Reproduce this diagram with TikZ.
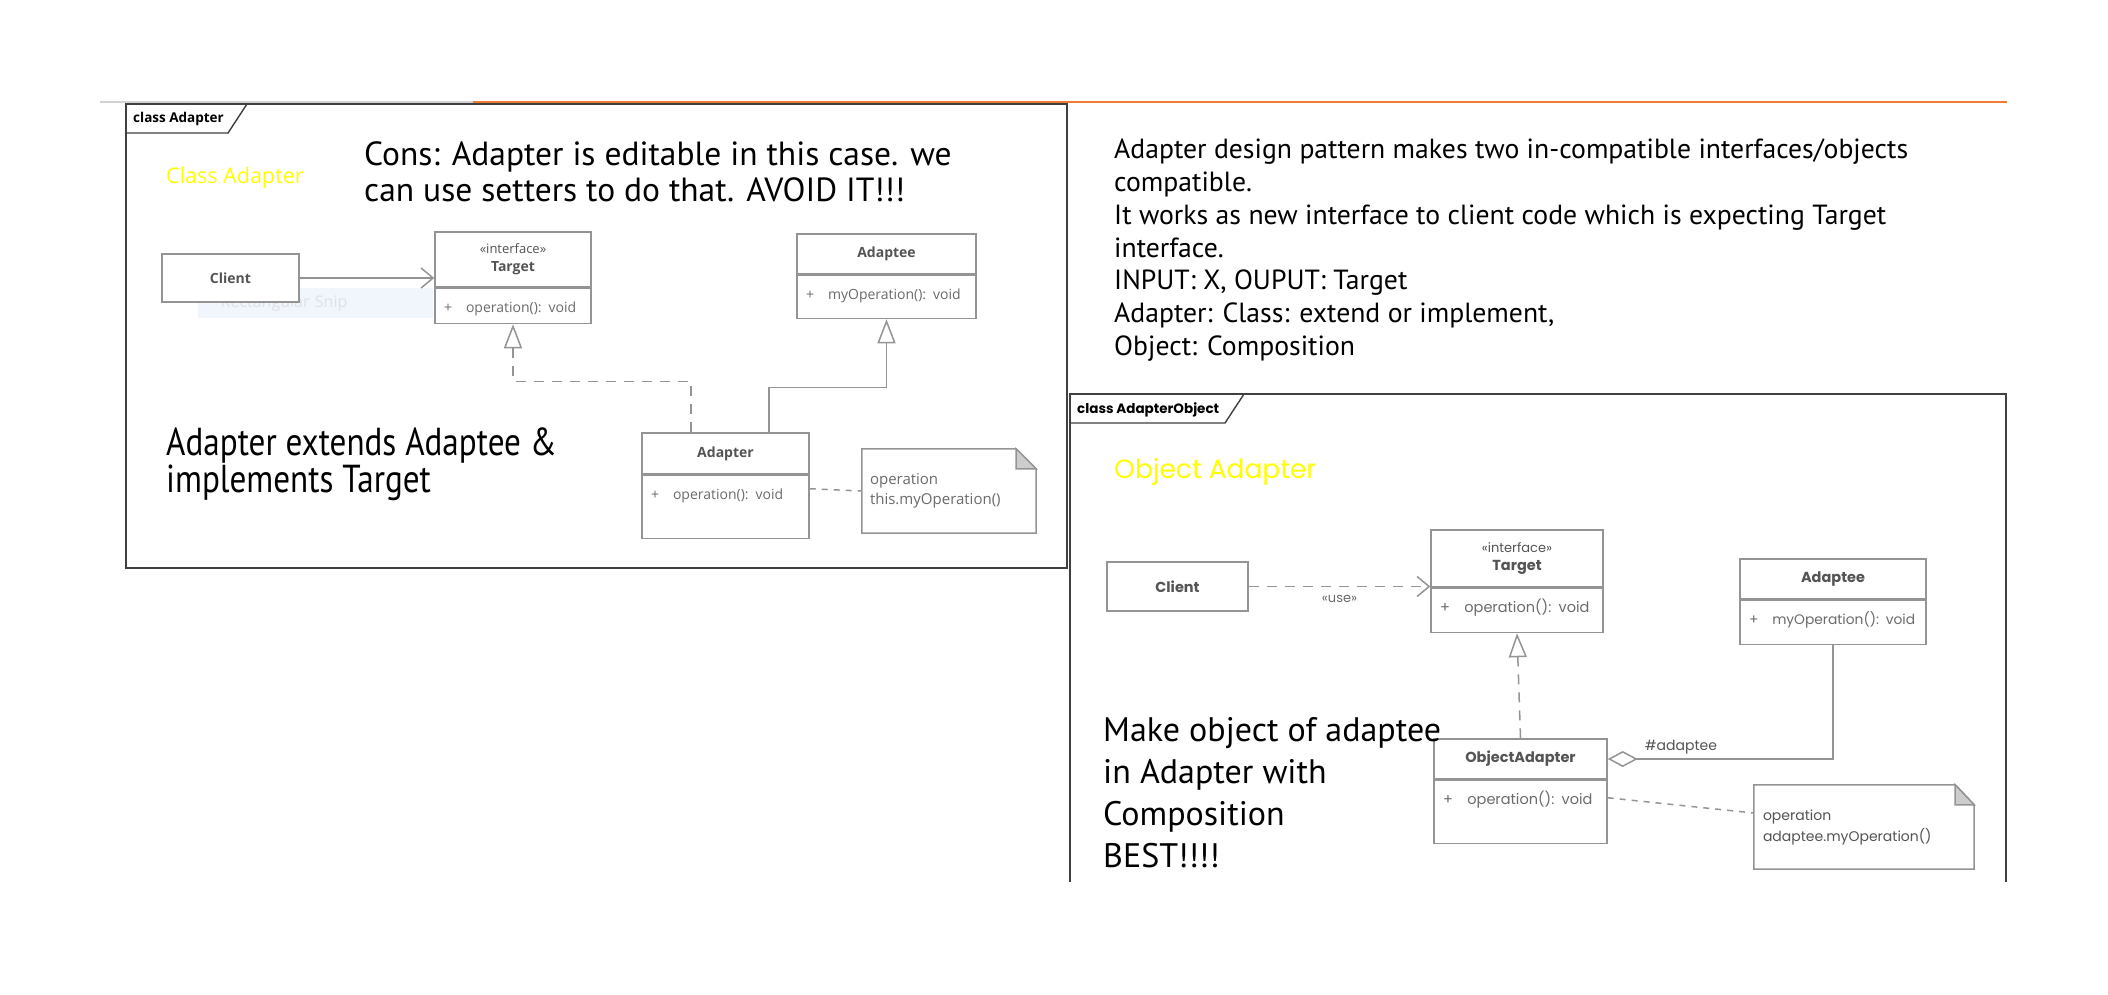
\documentclass[tikz,border=0pt]{standalone}
\usepackage{fontspec}
\setmainfont{Open Sans}
\newfontfamily\comicfont{Poppins}
\newfontfamily\handfont{PT Sans}
\newfontfamily\handnarrow{PT Sans}[FakeStretch=0.85]
\usetikzlibrary{arrows.meta, positioning, calc}
\definecolor{umlline}{gray}{0.58}
\definecolor{umltext}{gray}{0.42}
\definecolor{umlname}{gray}{0.33}
\definecolor{frameline}{gray}{0.25}
\definecolor{orangeline}{RGB}{237,125,49}
\definecolor{snipblue}{RGB}{240,246,252}
\definecolor{notefold}{gray}{0.80}
\definecolor{titleyellow}{RGB}{255,255,0}
\newcommand{\fsz}[2]{\fontsize{#1}{#2}\selectfont}

\begin{document}
\begin{tikzpicture}[x=1pt, y=-1pt,
    every node/.style={inner sep=0pt},
    umlhead/.style={draw=umlline, line width=1.5pt, fill=white, align=center, text=umlname, font=\fsz{14}{18}\bfseries},
    umlops/.style 2 args={draw=umlline, line width=1.5pt, fill=white, anchor=north, align=left, text=umltext,
        font=\fsz{14}{17}, inner xsep=9pt, inner ysep=6pt, text width=#1, text height=18pt, text depth=#2},
    rhead/.style={umlhead, font=\comicfont\fsz{14.5}{18}\bfseries},
    rops/.style 2 args={umlops={#1}{#2}, font=\comicfont\fsz{14.5}{17}},
    umlnote/.style={align=left, text=umltext, font=\fsz{15}{20}, inner xsep=8pt},
    rnote/.style={umlnote, text=umlname, font=\comicfont\fsz{14}{21}, inner xsep=9pt},
    notebox/.style={draw=umlline, line width=1.5pt},
    assoc/.style={draw=umlline, line width=1.5pt, arrows={-Straight Barb[length=12pt, width=20pt]}},
    usedep/.style={assoc, dash pattern=on 10pt off 8pt},
    gener/.style={draw=umlline, line width=1.5pt, arrows={-Triangle[open, fill=white, length=24pt, width=18pt]}},
    realize/.style={gener, dash pattern=on 10pt off 8pt},
    aggr/.style={draw=umlline, line width=1.5pt, arrows={Diamond[open, fill=white, length=30pt, width=16pt]-}},
    notelink/.style={draw=umlline, line width=1.5pt, dash pattern=on 6pt off 6pt},
    frame/.style={draw=frameline, line width=1.4pt},
    hand/.style={align=left, text=black, anchor=north west}
]
\fill[white] (0,0) rectangle (2108,994);
\useasboundingbox (0,0) rectangle (2108,994);

%% Top rule
\draw[gray!35, line width=1.5pt] (100,102) -- (473,102);
\draw[orangeline, line width=2.5pt] (473,102) -- (2007,102);

%% Frames
\draw[frame] (126,104) rectangle (1067,568);
\draw[frame] (126,133) -- (228,133) -- (247,104);
\node[anchor=west, font=\fsz{13.5}{15}\bfseries, text=black] (ltab) at (133,119) {class Adapter};
\draw[frame] (1070,882) |- (2006,394) -- (2006,882);
\draw[frame] (1070,423) -- (1225,423) -- (1244,394);
\node[anchor=west, font=\comicfont\fsz{13.5}{15}\bfseries, text=black] (rtab) at (1077,410) {class AdapterObject};

%% Class Adapter
\node[anchor=west, text=titleyellow, font=\fsz{21.5}{24}] (ltitle) at (166,178) {Class Adapter};
\node[fill=snipblue, minimum width=235pt, minimum height=30pt, anchor=west, text=blue!12!gray!22,
      font=\fsz{16}{18}, align=left, text width=190pt, inner xsep=22pt] (snip) at (198,303) {Rectangular Snip};
\node[umlhead, minimum width=137pt, minimum height=48pt] (lclient) at (230.5,278) {Client};
\node[umlhead, minimum width=156pt, minimum height=55pt] (ltarget) at (513,259.5) {{\fsz{13}{16}\mdseries «interface»}\\Target};
\node[umlops={138pt}{5pt}, below=0pt of ltarget] (ltargetops) {+\quad operation(): void};
\node[umlhead, minimum width=179pt, minimum height=40pt] (ladaptee) at (886.5,254) {Adaptee};
\node[umlops={161pt}{13pt}, below=0pt of ladaptee] (ladapteeops) {+\quad myOperation(): void};
\node[umlhead, minimum width=167pt, minimum height=41pt] (ladapter) at (725.5,453.5) {Adapter};
\node[umlops={149pt}{33pt}, below=0pt of ladapter] (ladapterops) {+\quad operation(): void};
\node[umlnote, text width=158pt, minimum height=84pt] (lnote) at (949,491) {operation\\this.myOperation()};
\draw[notebox] (lnote.south west) -- (lnote.north west) -- ([xshift=-20pt]lnote.north east)
    -- ([yshift=-20pt]lnote.north east) -- (lnote.south east) -- cycle;
\filldraw[notebox, fill=notefold] ([xshift=-20pt]lnote.north east) -- ([yshift=-20pt]lnote.north east)
    -- ([xshift=-20pt, yshift=-20pt]lnote.north east) -- cycle;

\draw[assoc] (lclient.east) -- (ltarget.west |- lclient.east);
\draw[gener] ([xshift=43.5pt]ladapter.north) |- ($(ladapteeops.south)+(0,68)$) -- (ladapteeops.south);
\draw[realize] ([xshift=-34.5pt]ladapter.north) |- ($(ltargetops.south)+(0,57)$) -- (ltargetops.south);
\draw[notelink] ([yshift=-14pt]ladapterops.north east) -- (lnote.west);

\node[hand, font=\handfont\fsz{33.5}{36}] (cons) at (364,141) {Cons: Adapter is editable in this case. we\\can use setters to do that. AVOID IT!!!};
\node[hand, font=\handnarrow\fsz{39}{37}] (extends) at (166,428) {Adapter extends Adaptee \&\\implements Target};

%% Summary
\node[hand, font=\handfont\fsz{27.7}{32.7}] (summary) at (1114,139) {Adapter design pattern makes two in-compatible interfaces/objects\\
compatible.\\
It works as new interface to client code which is expecting Target\\
interface.\\
INPUT: X, OUPUT: Target\\
Adapter: Class: extend or implement,\\
Object: Composition};

%% Object Adapter
\node[anchor=west, text=titleyellow, font=\comicfont\fsz{26.5}{30}] (rtitle) at (1114,472) {Object Adapter};
\node[rhead, minimum width=141pt, minimum height=49pt] (rclient) at (1177.5,586.5) {Client};
\node[rhead, minimum width=172pt, minimum height=57pt] (rtarget) at (1517,558.5) {{\fsz{13}{16}\mdseries «interface»}\\Target};
\node[rops={154pt}{14pt}, below=0pt of rtarget] (rtargetops) {+\quad operation(): void};
\node[rhead, minimum width=186pt, minimum height=40pt] (radaptee) at (1833,579) {Adaptee};
\node[rops={168pt}{14pt}, below=0pt of radaptee, font=\comicfont\fsz{13.8}{17}] (radapteeops) {\mbox{+\quad myOperation(): void}};
\node[rhead, minimum width=173pt, minimum height=40pt] (robjadapter) at (1520.5,759) {ObjectAdapter};
\node[rops={155pt}{33pt}, below=0pt of robjadapter] (robjadapterops) {+\quad operation(): void};
\node[rnote, text width=202pt, minimum height=84pt] (rnote) at (1864,827) {operation\\adaptee.myOperation()};
\draw[notebox] (rnote.south west) -- (rnote.north west) -- ([xshift=-19pt]rnote.north east)
    -- ([yshift=-20pt]rnote.north east) -- (rnote.south east) -- cycle;
\filldraw[notebox, fill=notefold] ([xshift=-19pt]rnote.north east) -- ([yshift=-20pt]rnote.north east)
    -- ([xshift=-19pt, yshift=-20pt]rnote.north east) -- cycle;

\draw[usedep] (rclient.east) -- node[below=8pt, text=umltext, font=\comicfont\fsz{13}{15}] (uselbl) {«use»} (rclient.east -| rtarget.west);
\draw[realize] (robjadapter.north) -- (rtargetops.south);
\draw[aggr] (robjadapter.east) -| (radapteeops.south);
\node[anchor=west, text=umlname, font=\comicfont\fsz{14}{15}] (adapteelbl) at ([xshift=37pt, yshift=12pt]robjadapter.east) {\#adaptee};
\draw[notelink] ([yshift=-18pt]robjadapterops.north east) -- ([yshift=14pt]rnote.west);

\node[hand, font=\handfont\fsz{34}{42}] (best) at (1103,717) {Make object of adaptee\\in Adapter with\\Composition\\BEST!!!!};
\end{tikzpicture}
\end{document}
